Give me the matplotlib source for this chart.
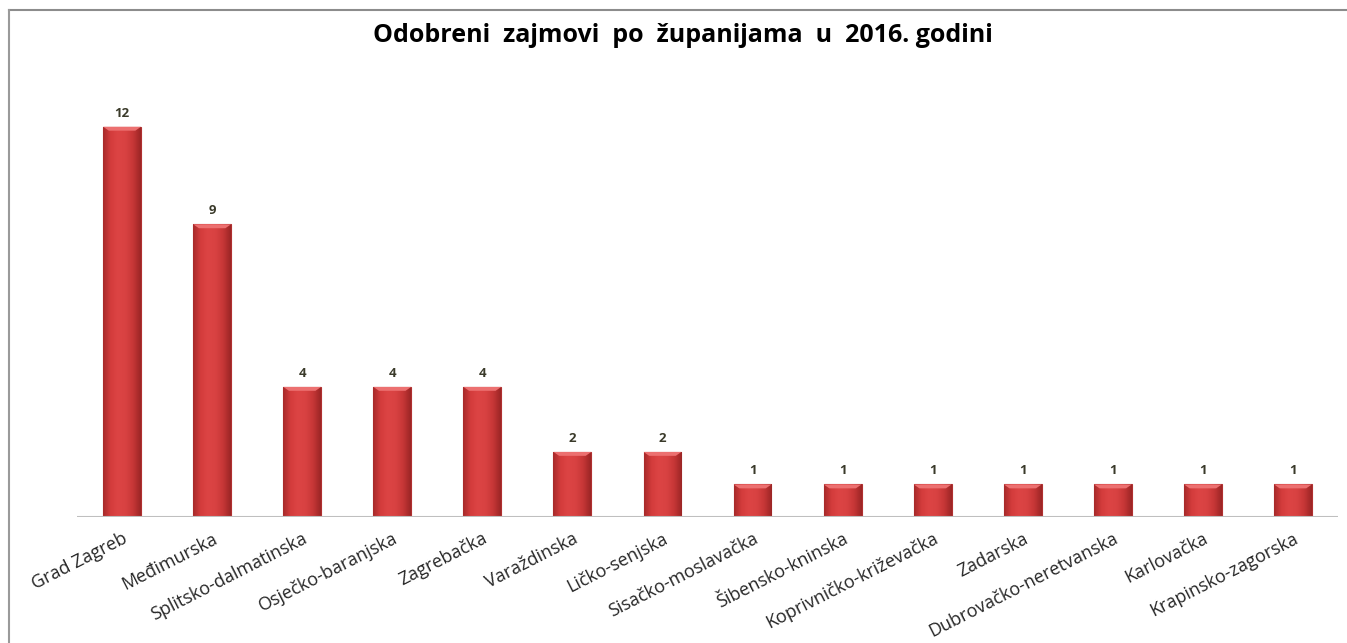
import numpy as np
import matplotlib.pyplot as plt
from matplotlib.lines import Line2D
from matplotlib.colors import LinearSegmentedColormap

zupanije = ['Grad Zagreb', 'Međimurska', 'Splitsko-dalmatinska', 'Osječko-baranjska',
            'Zagrebačka', 'Varaždinska', 'Ličko-senjska', 'Sisačko-moslavačka',
            'Šibensko-kninska', 'Koprivničko-križevačka', 'Zadarska',
            'Dubrovačko-neretvanska', 'Karlovačka', 'Krapinsko-zagorska']
zajmovi = [12, 9, 4, 4, 4, 2, 2, 1, 1, 1, 1, 1, 1, 1]

plt.rcParams['font.family'] = ['Open Sans', 'DejaVu Sans']

fig = plt.figure(figsize=(13.47, 6.43), dpi=100)
ax = fig.add_axes([0.0572, 0.196, 0.9361, 0.708])

x = np.arange(len(zupanije))
bars = ax.bar(x, zajmovi, width=0.42, color='#d64040', edgecolor='#b03030',
              linewidth=0.8, zorder=2)

# cylinder-like shading inside each bar
cmap = LinearSegmentedColormap.from_list(
    'bar', ['#a82a2a', '#d43c3c', '#dc4444', '#d84242', '#c63636', '#9c2626'])
grad = np.linspace(0, 1, 64).reshape(1, -1)
for b in bars:
    x0, w, h = b.get_x(), b.get_width(), b.get_height()
    im = ax.imshow(grad, cmap=cmap, aspect='auto', extent=[x0, x0 + w, 0, h],
                   zorder=3, interpolation='bilinear')
    im.set_clip_path(b)
    # lighter bevel on top
    ax.fill([x0, x0 + w, x0 + w * 0.85, x0 + w * 0.15],
            [h, h, h - 0.12, h - 0.12], color='#ec7070', zorder=4, lw=0)
    ax.text(x0 + w / 2, h + 0.22, str(int(h)), ha='center', va='bottom',
            fontsize=9.5, fontweight='bold', color='#3a3a2a', zorder=5)

ax.set_xlim(-0.5, len(zupanije) - 0.5)
ax.set_ylim(0, 14)
ax.axhline(0, color='#bfbfbf', lw=1.5, zorder=6)
for s in ax.spines.values():
    s.set_visible(False)
ax.set_yticks([])
ax.set_xticks(x)
ax.set_xticklabels(zupanije, rotation=27, ha='right', rotation_mode='anchor',
                   fontsize=13, color='#262626')
ax.tick_params(axis='x', length=0, pad=9)

fig.text(0.507, 0.945, 'Odobreni  zajmovi  po  županijama  u  2016. godini',
         ha='center', va='center', fontsize=18, fontweight='bold', color='black')

# outer frame (only top and left visible)
fig.add_artist(Line2D([9 / 1347, 1.0], [1 - 10 / 643, 1 - 10 / 643],
                      color='#8c8c8c', lw=1.5))
fig.add_artist(Line2D([9 / 1347, 9 / 1347], [0, 1 - 10 / 643],
                      color='#9a9a9a', lw=1.5))

fig.savefig('out.png', dpi=100)
